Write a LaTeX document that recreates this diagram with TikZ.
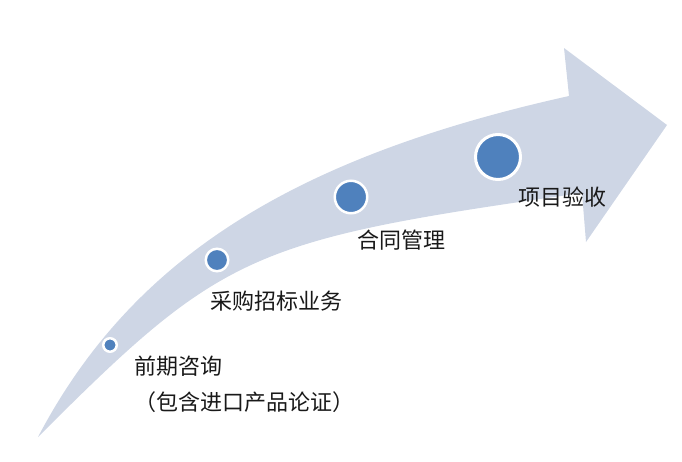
\documentclass[tikz,border=0pt]{standalone}
\usepackage{fontspec}
\newfontfamily\cjk{Noto Sans CJK SC}
\definecolor{band}{RGB}{206,214,229}
\definecolor{dotblue}{RGB}{79,129,189}
\begin{document}
\begin{tikzpicture}[x=1pt,y=-1pt,
  dot/.style={circle,fill=dotblue,draw=white,line width=2.5pt,inner sep=0pt},
  lbl/.style={font=\cjk\fontsize{22}{26}\selectfont,inner sep=0pt,text=black!90}]
\useasboundingbox (0,0) rectangle (682,461);
\fill[band] (38,437) .. controls (131,260) and (290,158) .. (569,96)
  -- (564,48) -- (667,125) -- (586,242) -- (582,193)
  .. controls (250,240) and (223,252) .. (38,437) -- cycle;
\node[dot,minimum size=13.5pt] (c1) at (110,345) {};
\node[dot,minimum size=22.5pt] (c2) at (217,260) {};
\node[dot,minimum size=32.5pt] (c3) at (351,197) {};
\node[dot,minimum size=45pt,line width=3pt] (c4) at (498,157) {};
\node[lbl,anchor=west] (t1) at (134,366) {前期咨询};
\node[lbl,anchor=west] (t1b) at (134,402) {（包含进口产品论证）};
\node[lbl,anchor=west] (t2) at (210,301) {采购招标业务};
\node[lbl,anchor=west] (t3) at (357,240) {合同管理};
\node[lbl,anchor=west] (t4) at (518,197) {项目验收};
\end{tikzpicture}
\end{document}
